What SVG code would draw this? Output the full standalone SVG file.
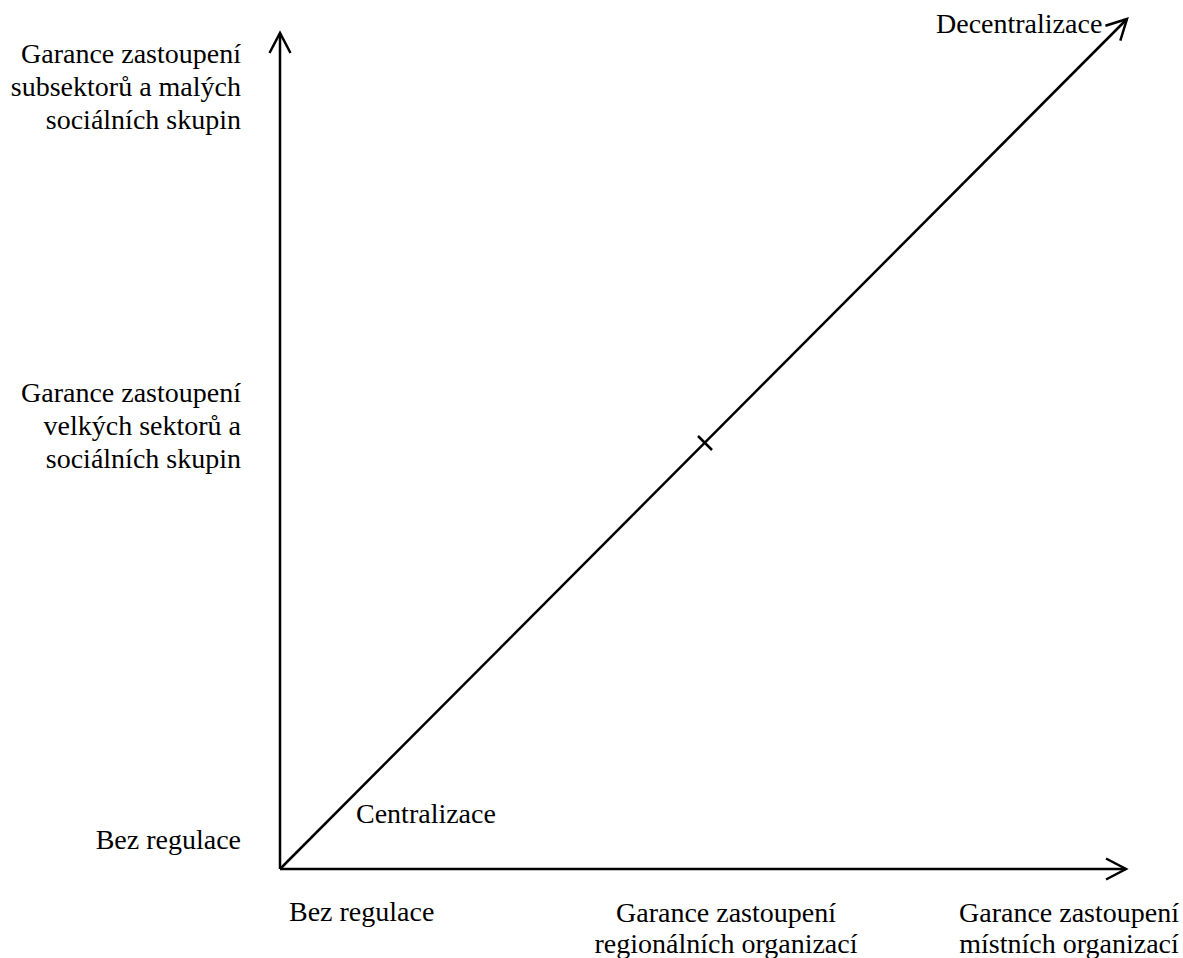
<svg xmlns="http://www.w3.org/2000/svg" width="1183" height="958" viewBox="0 0 1183 958">
<defs>
<marker id="arrow" markerUnits="userSpaceOnUse" markerWidth="30" markerHeight="30" viewBox="-25 -15 30 30" refX="0" refY="0" orient="auto">
<path d="M-20,-10.5 L0,0 L-20,10.5" fill="none" stroke="#000" stroke-width="2.5"/>
</marker>
</defs>
<style>
text{font-family:"Liberation Serif","Times New Roman",serif;font-size:28px;fill:#000}
.r{text-anchor:end}
.m{text-anchor:middle}
.ax{stroke:#000;stroke-width:2.5;fill:none}
</style>
<rect width="1183" height="958" fill="#fff"/>
<g id="connectors">
<line class="ax" x1="280" y1="869" x2="280" y2="33" marker-end="url(#arrow)"/>
<line class="ax" x1="280" y1="869" x2="1126" y2="869" marker-end="url(#arrow)"/>
<line class="ax" x1="280" y1="869" x2="1127" y2="19" marker-end="url(#arrow)"/>
<line class="ax" x1="698" y1="436" x2="712" y2="450"/>
</g>
<g id="y-top"><text class="r" x="241" y="63">Garance zastoupení</text><text class="r" x="241" y="96">subsektorů a malých</text><text class="r" x="241" y="129">sociálních skupin</text></g>
<g id="y-mid"><text class="r" x="241" y="402">Garance zastoupení</text><text class="r" x="241" y="435">velkých sektorů a</text><text class="r" x="241" y="468">sociálních skupin</text></g>
<g id="y-low"><text class="r" x="241" y="849">Bez regulace</text></g>
<g id="x-low"><text x="289" y="921">Bez regulace</text></g>
<g id="x-mid"><text class="m" x="726" y="922">Garance zastoupení</text><text class="m" x="726" y="953">regionálních organizací</text></g>
<g id="x-high"><text class="m" x="1069" y="922">Garance zastoupení</text><text class="m" x="1069" y="953">místních organizací</text></g>
<g id="centralizace"><text x="356" y="823">Centralizace</text></g>
<g id="decentralizace"><text x="936" y="33">Decentralizace</text></g>
</svg>
